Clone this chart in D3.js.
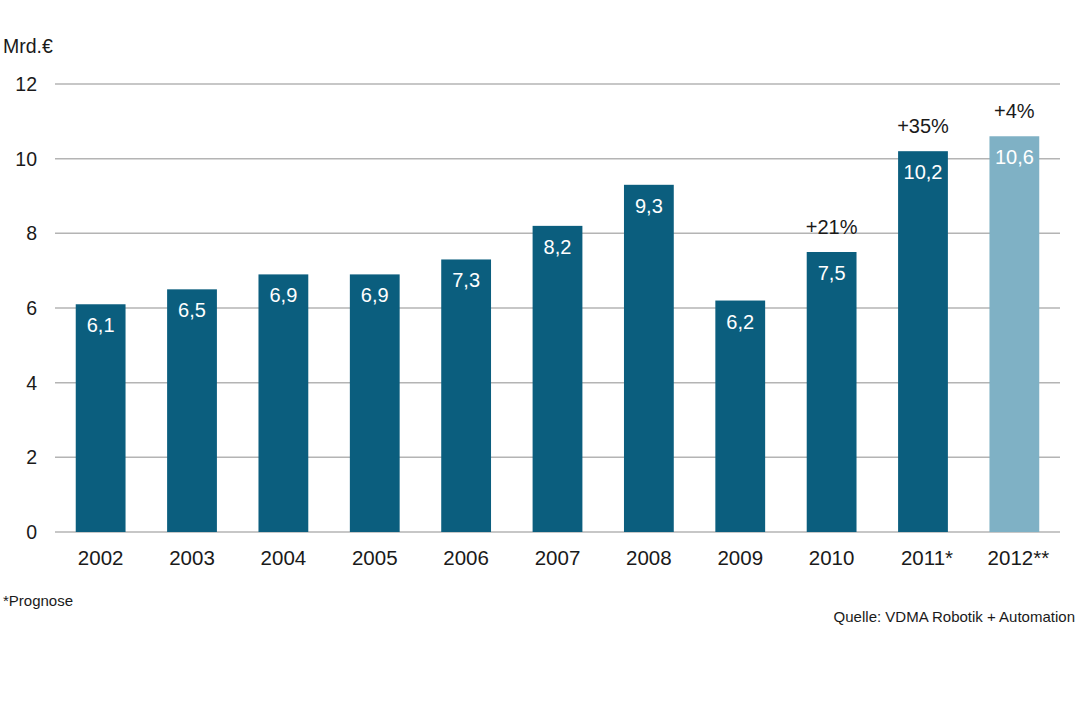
<!DOCTYPE html>
<html>
<head>
<meta charset="utf-8">
<script src="https://d3js.org/d3.v7.min.js"></script>
<style>
  body { margin: 0; background: #fff; }
  text { font-family: "Liberation Sans", Arial, sans-serif; }
</style>
</head>
<body>
<script>
const years = ["2002","2003","2004","2005","2006","2007","2008","2009","2010","2011*","2012**"];
const values = [6.1, 6.5, 6.9, 6.9, 7.3, 8.2, 9.3, 6.2, 7.5, 10.2, 10.6];
const labels = ["6,1","6,5","6,9","6,9","7,3","8,2","9,3","6,2","7,5","10,2","10,6"];
const changes = ["","","","","","","","","+21%","+35%","+4%"];
const forecast = [false,false,false,false,false,false,false,false,false,false,true];
const yTicks = [0, 2, 4, 6, 8, 10, 12];

const width = 1080, height = 720;
const svg = d3.select("body").append("svg")
  .attr("width", width)
  .attr("height", height);

const x = d3.scaleBand()
  .domain(years)
  .range([55, 1060])
  .paddingInner(0.455)
  .paddingOuter(0.227);

const y = d3.scaleLinear()
  .domain([0, 12])
  .range([532, 84]);

// grid lines
svg.append("g")
  .selectAll("line")
  .data(yTicks)
  .enter().append("line")
    .attr("x1", 55)
    .attr("x2", 1060)
    .attr("y1", d => y(d))
    .attr("y2", d => y(d))
    .attr("stroke", "#b4b4b4")
    .attr("stroke-width", 1.5);

// y labels
svg.append("g")
  .selectAll("text")
  .data(yTicks)
  .enter().append("text")
    .attr("x", 37)
    .attr("y", d => y(d) + 7)
    .attr("text-anchor", "end")
    .attr("font-size", 19.5)
    .attr("fill", "#1a1a1a")
    .text(d => d);

svg.append("text")
  .attr("x", 3)
  .attr("y", 53)
  .attr("font-size", 19.5)
  .attr("fill", "#1a1a1a")
  .text("Mrd.€");

const bars = svg.append("g")
  .selectAll("g")
  .data(years)
  .enter().append("g");

bars.append("rect")
  .attr("x", d => x(d))
  .attr("width", x.bandwidth())
  .attr("y", (d, i) => y(values[i]))
  .attr("height", (d, i) => y(0) - y(values[i]))
  .attr("fill", (d, i) => forecast[i] ? "#7fb1c5" : "#0b5e7e");

bars.append("text")
  .attr("x", d => x(d) + x.bandwidth() / 2)
  .attr("y", (d, i) => y(values[i]) + 28)
  .attr("text-anchor", "middle")
  .attr("font-size", 20)
  .attr("fill", "#fff")
  .text((d, i) => labels[i]);

bars.append("text")
  .attr("x", d => x(d) + x.bandwidth() / 2)
  .attr("y", (d, i) => y(values[i]) - 18)
  .attr("text-anchor", "middle")
  .attr("font-size", 20)
  .attr("fill", "#1a1a1a")
  .text((d, i) => changes[i]);

// x axis labels
svg.append("g")
  .selectAll("text")
  .data(years)
  .enter().append("text")
    .attr("x", d => x(d) + x.bandwidth() / 2 + (d.length > 4 ? 4 : 0))
    .attr("y", 565)
    .attr("text-anchor", "middle")
    .attr("font-size", 20.5)
    .attr("fill", "#1a1a1a")
    .text(d => d);

svg.append("text")
  .attr("x", 3)
  .attr("y", 606)
  .attr("font-size", 15)
  .attr("fill", "#1a1a1a")
  .text("*Prognose");

svg.append("text")
  .attr("x", 1075)
  .attr("y", 622)
  .attr("text-anchor", "end")
  .attr("font-size", 15)
  .attr("fill", "#1a1a1a")
  .text("Quelle: VDMA Robotik + Automation");
</script>
</body>
</html>
